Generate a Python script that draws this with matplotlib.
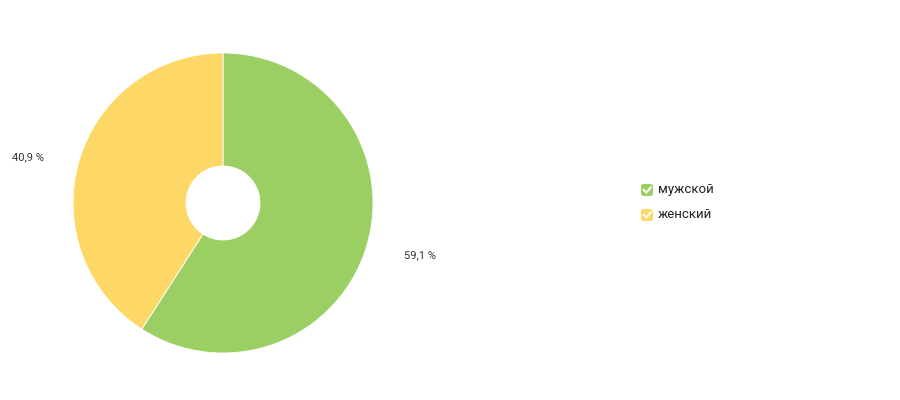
import matplotlib
matplotlib.use("Agg")
import matplotlib.pyplot as plt
from matplotlib.patches import FancyBboxPatch

# data
labels = ["мужской", "женский"]
shares = [59.1, 40.9]
colors = ["#9bcf63", "#fdd866"]

plt.rcParams['font.family'] = ['Roboto', 'DejaVu Sans']

fig = plt.figure(figsize=(9, 4), dpi=100, facecolor="white")
ax = fig.add_axes([0, 0, 1, 1])

# donut, clockwise from 12 o'clock
wedges, texts, autotexts = ax.pie(
    shares,
    colors=colors,
    startangle=90,
    counterclock=False,
    center=(223, 197),
    radius=150,
    wedgeprops=dict(width=113, edgecolor="white", linewidth=0.6),
    autopct=lambda p: f"{p:.1f} %".replace(".", ","),
    pctdistance=1.34,
    textprops=dict(fontsize=8, color="#333333"),
    frame=True,
)
ax.set_xlim(0, 900)
ax.set_ylim(0, 400)
ax.set_aspect("equal")
ax.axis("off")

# nudge percentage labels to where the reference puts them
nudges = [(4, 4), (-2, -11)]
for t, (dx, dy) in zip(autotexts, nudges):
    x, y = t.get_position()
    t.set_position((x + dx, y + dy))

# legend with check boxes
for i, (lab, col) in enumerate(zip(labels, colors)):
    y = 210 - i * 25
    ax.add_patch(FancyBboxPatch((641, y - 6), 12, 12,
                                boxstyle="round,pad=0,rounding_size=2.5",
                                facecolor=col, edgecolor="none"))
    ax.plot([643.5, 646.3, 651], [y + 0.3, y - 2.6, y + 2.8], color="white",
            lw=1.4, solid_capstyle="round", solid_joinstyle="round")
    ax.text(658, y, lab, fontsize=9.5, color="#222222", va="center", ha="left")

fig.savefig("out.png", dpi=100, facecolor="white")
